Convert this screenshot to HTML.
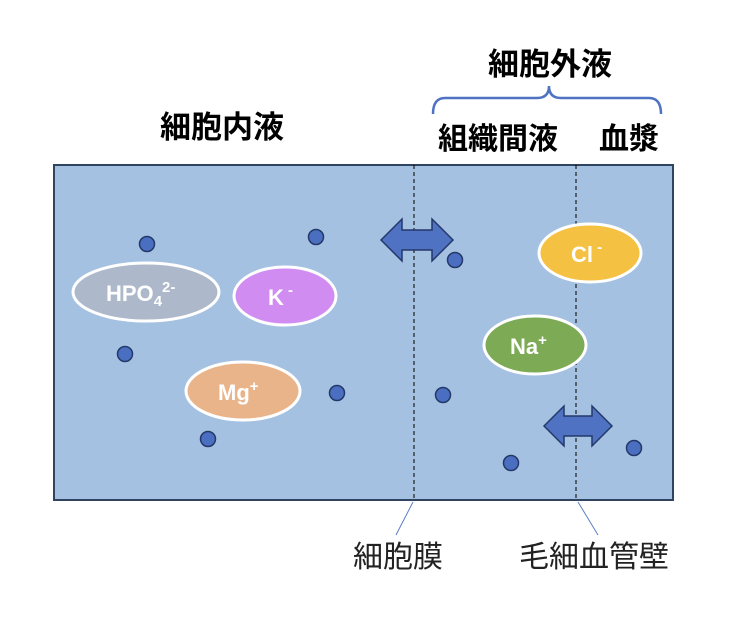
<!DOCTYPE html>
<html><head><meta charset="utf-8"><style>
body{margin:0;background:#fff;}
svg text{font-family:"Liberation Sans","Noto Sans CJK JP",sans-serif;}
</style></head><body>
<svg width="730" height="624" viewBox="0 0 730 624" xmlns="http://www.w3.org/2000/svg">
<rect x="54" y="165" width="619" height="335" fill="#a4c1e1" stroke="#2f4461" stroke-width="2"/>
<line x1="414" y1="165" x2="414" y2="500" stroke="#000" stroke-width="1" stroke-dasharray="4,3"/>
<line x1="576" y1="165" x2="576" y2="500" stroke="#000" stroke-width="1" stroke-dasharray="4,3"/>
<line x1="413" y1="502" x2="396" y2="535" stroke="#5b7fc4" stroke-width="1"/>
<line x1="578" y1="502" x2="598" y2="535" stroke="#5b7fc4" stroke-width="1"/>
<g stroke="#fff" stroke-width="3" font-weight="bold">
<ellipse cx="146" cy="292" rx="73" ry="29" fill="#adb9ca"/>
<ellipse cx="285" cy="296" rx="51" ry="29" fill="#d18cf2"/>
<ellipse cx="243" cy="391" rx="57" ry="29" fill="#e9b48a"/>
<ellipse cx="590" cy="253" rx="51" ry="29" fill="#f4c142"/>
<ellipse cx="535" cy="345" rx="51" ry="29" fill="#7daa55"/>
</g>
<g fill="#fff" font-weight="bold" font-size="22">
<text x="106" y="301">HPO<tspan font-size="15" dy="5">4</tspan><tspan font-size="15" dy="-14">2-</tspan></text>
<text x="268" y="305">K<tspan font-size="15" dy="-10"> -</tspan></text>
<text x="218" y="400">Mg<tspan font-size="15" dy="-9">+</tspan></text>
<text x="571" y="262">Cl<tspan font-size="15" dy="-10"> -</tspan></text>
<text x="510" y="354">Na<tspan font-size="15" dy="-9">+</tspan></text>
</g>
<g fill="#4a6fc0" stroke="#24386a" stroke-width="1.5">
<circle cx="147" cy="244" r="7.5"/><circle cx="316" cy="237" r="7.5"/><circle cx="125" cy="354" r="7.5"/>
<circle cx="337" cy="393" r="7.5"/><circle cx="208" cy="439" r="7.5"/><circle cx="455" cy="260" r="7.5"/>
<circle cx="443" cy="395" r="7.5"/><circle cx="511" cy="463" r="7.5"/><circle cx="634" cy="448" r="7.5"/>
<polygon points="381,240 402,219 402,230 432,230 432,219 453,240 432,261 432,250 402,250 402,261" fill="#4f72c2"/>
<polygon points="544,426 564,406 564,416 592,416 592,406 612,426 592,446 592,436 564,436 564,446" fill="#4f72c2"/>
</g>
<g font-weight="bold" fill="#000" text-anchor="middle">
<text x="222" y="138" font-size="31">細胞内液</text>
<text x="550" y="75" font-size="31">細胞外液</text>
<text x="498" y="149" font-size="30">組織間液</text>
<text x="629" y="149" font-size="30">血漿</text>
</g>
<path d="M433,114 Q433,98 445,98 L537,98 Q549,98 549,86 Q549,98 561,98 L649,98 Q661,98 661,114" fill="none" stroke="#4f72c2" stroke-width="2.5"/>
<g font-size="30" fill="#222" text-anchor="middle">
<text x="398" y="567">細胞膜</text>
<text x="594" y="567">毛細血管壁</text>
</g>
</svg>
</body></html>
